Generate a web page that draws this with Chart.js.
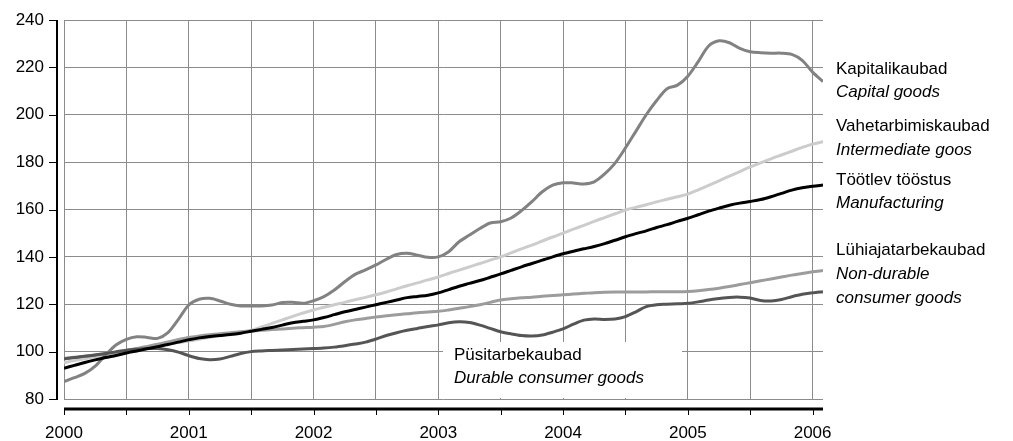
<!DOCTYPE html>
<html lang="et">
<head>
    <meta charset="UTF-8">
    <title>Tööstustoodang</title>
    <script src="https://cdn.jsdelivr.net/npm/chart.js@4.4.0/dist/chart.umd.min.js"></script>
    <style>
        body {
            margin: 0;
            padding: 0;
            background: #ffffff;
        }
        .chart-box {
            width: 1013px;
            height: 441px;
            position: relative;
        }
    </style>
</head>
<body>
    <div class="chart-box">
        <canvas id="lineChart"></canvas>
    </div>

    <script>
        // Year tick labels (one every 12 months, starting Jan 2000)
        const years = ['2000', '2001', '2002', '2003', '2004', '2005', '2006'];

        // Monthly index values, Jan 2000 .. Feb 2006
        const manufacturing = [
            93, 94.2, 95.4, 96.5, 97.5, 98.4, 99.4, 100.3, 101.2, 102.1, 103, 104,
            105, 105.8, 106.4, 106.8, 107.2, 107.8, 108.6, 109.4, 110.2, 111.2, 112.2, 112.8,
            113.4, 114.4, 115.6, 116.8, 117.8, 118.8, 119.8, 120.8, 121.8, 122.8, 123.3, 123.8,
            124.8, 126.2, 127.6, 128.8, 130, 131.4, 132.8, 134.3, 135.8, 137.2, 138.6, 140,
            141.3, 142.4, 143.4, 144.4, 145.6, 147, 148.5, 149.8, 151, 152.4, 153.6, 155,
            156.3, 157.8, 159.3, 160.6, 161.8, 162.7, 163.4, 164.2, 165.4, 166.8, 168.2, 169.2,
            169.8, 170.3
        ];
        const capitalGoods = [
            87.3, 89, 90.8, 93.9, 98.6, 102.8, 105.2, 106.3, 106, 105.6, 108, 113.6,
            119.7, 122.1, 122.5, 121.4, 120, 119.3, 119.3, 119.3, 119.7, 120.7, 120.8, 120.4,
            121.5, 123.2, 126, 129.5, 132.6, 134.5, 136.6, 139, 141, 141.5, 140.7, 139.8,
            140, 142.2, 146.4, 149.2, 152, 154.3, 154.8, 156.4, 159.5, 163.3, 167.5, 170.3,
            171.3, 171.2, 170.8, 171.7, 175, 179.6, 186, 193, 200, 206, 211, 212.5,
            216.3, 222.4, 229, 231.2, 230.4, 228, 226.6, 226.2, 226, 226, 225.5, 223,
            218, 214
        ];
        const intermediateGoods = [
            95.3, 96.2, 97, 97.8, 98.6, 99.5, 100.3, 101, 101.7, 102.5, 103.2, 103.8,
            104.5, 105.2, 106, 106.7, 107.5, 108.2, 109, 110.4, 111.9, 113.4, 114.9, 116.3,
            117.6, 118.7, 119.8, 120.8, 121.9, 122.9, 124, 125.2, 126.5, 127.8, 129, 130.3,
            131.5, 133, 134.4, 135.8, 137.2, 138.6, 140, 141.7, 143.4, 145, 146.7, 148.4,
            150, 151.7, 153.3, 155, 156.6, 158.2, 159.8, 160.9, 162, 163.2, 164.3, 165.4,
            166.5, 168.3, 170.2, 172.1, 174.1, 176, 178, 179.7, 181.4, 183, 184.6, 186.2,
            187.6, 188.6
        ];
        const nonDurable = [
            97.2, 97.6, 98.1, 98.6, 99.2, 99.8, 100.5, 101.3, 102.2, 103.1, 104.1, 105.1,
            106, 106.6, 107.1, 107.5, 108, 108.4, 108.7, 109, 109.3, 109.6, 109.9, 110.1,
            110.3, 110.6, 111.5, 112.6, 113.4, 114, 114.6, 115.1, 115.6, 116, 116.4, 116.7,
            117, 117.6, 118.3, 119, 119.8, 120.8, 121.8, 122.3, 122.7, 123, 123.4, 123.7,
            124, 124.3, 124.6, 124.9, 125.1, 125.2, 125.2, 125.2, 125.2, 125.3, 125.3, 125.3,
            125.4, 125.7, 126.2, 126.8, 127.5, 128.3, 129.1, 129.9, 130.7, 131.5, 132.3, 133,
            133.7, 134.2
        ];
        const durable = [
            97, 97.5, 98, 98.6, 99.2, 99.9, 100.6, 101, 101.3, 101.3, 100.8, 99.8,
            98.3, 97.1, 96.6, 96.9, 98, 99.2, 100, 100.3, 100.5, 100.7, 100.9, 101.1,
            101.3, 101.5, 101.9, 102.5, 103.2, 104, 105.3, 106.8, 108, 109, 109.8, 110.6,
            111.3, 112.2, 112.6, 112.3, 111.2, 109.8, 108.4, 107.5, 106.8, 106.6, 107, 108.2,
            109.6, 111.6, 113.3, 113.8, 113.6, 113.8, 114.8, 116.8, 119, 119.8, 120, 120.2,
            120.4, 121, 121.8, 122.4, 122.9, 123, 122.6, 121.6, 121.4, 122, 123.2, 124.2,
            124.8, 125.3
        ];

        // Side labels: [text, italic, x, baseline y]
        const sideLabels = [
            ['Kapitalikaubad', false, 836, 74],
            ['Capital goods', true, 836, 97],
            ['Vahetarbimiskaubad', false, 836, 131],
            ['Intermediate goos', true, 836, 155],
            ['Töötlev tööstus', false, 836, 185],
            ['Manufacturing', true, 836, 208],
            ['Lühiajatarbekaubad', false, 836, 255],
            ['Non-durable', true, 836, 279],
            ['consumer goods', true, 836, 303],
            ['Püsitarbekaubad', false, 454, 360],
            ['Durable consumer goods', true, 454, 383]
        ];

        const FONT = '"Liberation Sans", Arial, sans-serif';
        const GRID = '#8c8c8c';

        function points(arr) {
            return arr.map((v, i) => ({ x: i, y: v }));
        }

        // White label box (under the lines), offset axis lines and text labels (on top)
        const decorations = {
            id: 'decorations',
            beforeDatasetsDraw(chart) {
                const ctx = chart.ctx;
                const a = chart.chartArea;
                ctx.save();
                ctx.fillStyle = '#ffffff';
                ctx.fillRect(443, 342, 239, a.bottom - 1 - 342);
                ctx.restore();
            },
            afterDraw(chart) {
                const ctx = chart.ctx;
                const a = chart.chartArea;
                const xs = chart.scales.x;
                const ys = chart.scales.y;
                ctx.save();
                ctx.fillStyle = '#000000';

                // y axis line + ticks
                const ax = a.left - 7;
                ctx.fillRect(ax - 1, a.top, 2, a.bottom - a.top + 1);
                ys.ticks.forEach(t => {
                    const y = Math.round(ys.getPixelForValue(t.value));
                    ctx.fillRect(ax - 8, y, 8, 1);
                });

                // x axis line + ticks
                const ay = a.bottom + 10;
                ctx.fillRect(a.left, ay - 1.5, a.right - a.left, 3);
                xs.ticks.forEach(t => {
                    const x = Math.round(xs.getPixelForValue(t.value));
                    ctx.fillRect(x, ay, 1, 6);
                });

                ctx.textAlign = 'left';
                ctx.textBaseline = 'alphabetic';
                sideLabels.forEach(([text, italic, x, y]) => {
                    ctx.font = (italic ? 'italic ' : '') + '17px ' + FONT;
                    ctx.fillText(text, x, y);
                });
                ctx.restore();
            }
        };

        const ctxLine = document.getElementById('lineChart').getContext('2d');

        const lineChart = new Chart(ctxLine, {
            type: 'line',
            data: {
                datasets: [
                    { label: 'Töötlev tööstus', data: points(manufacturing), borderColor: '#000000' },
                    { label: 'Püsitarbekaubad', data: points(durable), borderColor: '#555555' },
                    { label: 'Kapitalikaubad', data: points(capitalGoods), borderColor: '#828282' },
                    { label: 'Lühiajatarbekaubad', data: points(nonDurable), borderColor: '#9c9c9c' },
                    { label: 'Vahetarbimiskaubad', data: points(intermediateGoods), borderColor: '#cccccc' }
                ]
            },
            options: {
                responsive: true,
                maintainAspectRatio: false,
                animation: false,
                layout: { padding: { top: 20, right: 190, bottom: 0, left: 0 } },
                elements: {
                    point: { radius: 0 },
                    line: { borderWidth: 3, tension: 0.3, fill: false }
                },
                plugins: {
                    legend: { display: false },
                    tooltip: { enabled: false }
                },
                scales: {
                    x: {
                        type: 'linear',
                        min: 0,
                        max: 73,
                        afterFit(s) { s.height = 42; },
                        afterBuildTicks(s) {
                            const t = [];
                            for (let m = 0; m <= (years.length - 1) * 12; m += 6) t.push({ value: m });
                            s.ticks = t;
                        },
                        ticks: {
                            autoSkip: false,
                            maxRotation: 0,
                            padding: 24,
                            color: '#000000',
                            font: { family: FONT, size: 17 },
                            callback: v => (v % 12 === 0 ? years[v / 12] : '')
                        },
                        grid: { color: GRID, lineWidth: 1, drawTicks: false },
                        border: { display: false }
                    },
                    y: {
                        min: 80,
                        max: 240,
                        afterFit(s) { s.width = 64; },
                        ticks: {
                            stepSize: 20,
                            padding: 8,
                            color: '#000000',
                            font: { family: FONT, size: 17 }
                        },
                        grid: {
                            color: GRID,
                            lineWidth: 1,
                            drawTicks: true,
                            tickLength: 12,
                            tickColor: 'rgba(0,0,0,0)'
                        },
                        border: { display: false }
                    }
                }
            },
            plugins: [decorations]
        });
    </script>
</body>
</html>
